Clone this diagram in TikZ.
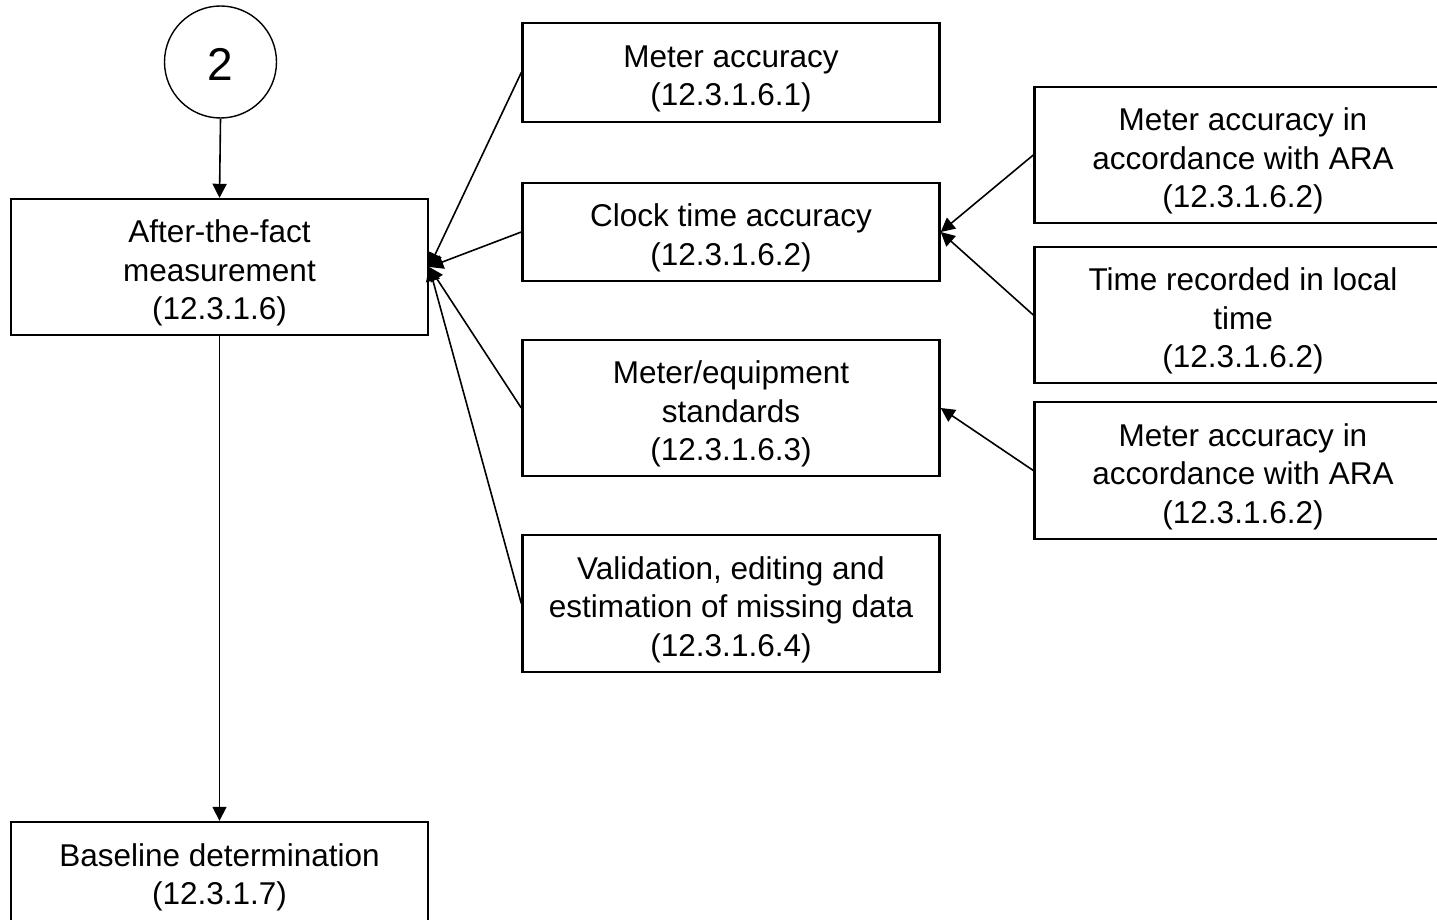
\documentclass[tikz,border=0pt]{standalone}
\usepackage{fontspec}
\setmainfont{Liberation Sans}
\usetikzlibrary{arrows.meta}
\newcommand\boxfont{\fontsize{31.5pt}{38.5pt}\selectfont}
\newcommand\circfont{\fontsize{46pt}{50pt}\selectfont}
\newcommand\toprule{\rule{0pt}{35pt}}
\tikzset{
  box/.style={draw, line width=2.4pt, minimum width=417pt, align=center, font=\boxfont, inner sep=0pt},
  arr/.style={line width=1.6pt, -{Triangle[length=14pt,width=14pt]}},
  numcirc/.style={draw, circle, line width=1.4pt, minimum size=112pt, inner sep=0pt, font=\circfont}
}
\begin{document}
\begin{tikzpicture}[x=1pt,y=-1pt]
\useasboundingbox (0,0) rectangle (1437,920);
\clip (0,0) rectangle (1437,920);
\fill[white] (0,0) rectangle (1437,920);
\node[numcirc] (circ) at (220.5,62) {\rule{0pt}{38pt}2};
\node[box, minimum height=136pt] (A) at (219.5,267) {\toprule After-the-fact\\measurement\\(12.3.1.6)};
\node[box, minimum height=99pt] (base) at (219.5,871.5) {\toprule Baseline determination\\(12.3.1.7)};
\node[box, minimum height=99pt] (B1) at (731,72.5) {\toprule Meter accuracy\\(12.3.1.6.1)};
\node[box, minimum height=98pt] (B2) at (731,232) {\toprule Clock time accuracy\\(12.3.1.6.2)};
\node[box, minimum height=136pt] (B3) at (731,408) {\toprule Meter/equipment\\standards\\(12.3.1.6.3)};
\node[box, minimum height=137pt] (B4) at (731,603.5) {\toprule Validation, editing and\\estimation of missing data\\(12.3.1.6.4)};
\node[box, minimum height=136pt] (R1) at (1243,155) {\toprule Meter accuracy in\\accordance with ARA\\(12.3.1.6.2)};
\node[box, minimum height=136pt] (R2) at (1243,315) {\toprule Time recorded in local\\time\\(12.3.1.6.2)};
\node[box, minimum height=137pt] (R3) at (1243,470.5) {\toprule Meter accuracy in\\accordance with ARA\\(12.3.1.6.2)};
\draw[arr] (circ.south) -- (A.north);
\draw[arr] (A.south) -- (base.north);
\draw[arr] (B1.west) -- (A.east);
\draw[arr] (B2.west) -- (A.east);
\draw[arr] (B3.west) -- (A.east);
\draw[arr] (B4.west) -- (A.east);
\draw[arr] (R1.west) -- (B2.east);
\draw[arr] (R2.west) -- (B2.east);
\draw[arr] (R3.west) -- (B3.east);
\end{tikzpicture}
\end{document}
